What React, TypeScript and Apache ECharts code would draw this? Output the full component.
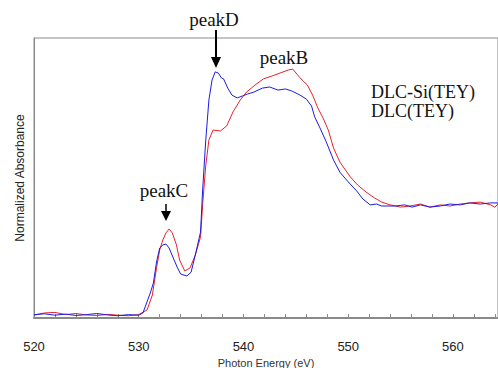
import React, { useEffect, useRef } from "react";
import * as echarts from "echarts";

const seriesNames = ["DLC-Si(TEY)", "DLC(TEY)"];

const blueX = [520, 521, 522, 523, 524, 525, 526, 527, 528, 529, 530, 530.4, 531.1, 531.4, 531.7, 532.0, 532.3, 532.6, 532.9, 533.3, 533.7, 534.0, 534.6, 535.0, 535.4, 535.9, 536.1, 536.4, 536.7, 537.0, 537.3, 537.6, 537.9, 538.1, 538.5, 538.9, 539.4, 539.9, 540.4, 541.0, 541.8, 542.5, 543.3, 544.0, 544.6, 545.4, 546.0, 546.5, 546.8, 547.3, 547.9, 548.6, 549.2, 550.0, 550.8, 551.4, 552.1, 552.7, 553.2, 554.5, 555.4, 556.1, 556.9, 557.8, 558.8, 559.7, 560.7, 561.6, 562.6, 563.6, 564.3];
const blueY = [0.012, 0.015, 0.010, 0.014, 0.009, 0.012, 0.016, 0.011, 0.008, 0.012, 0.010, 0.018, 0.089, 0.125, 0.200, 0.250, 0.261, 0.264, 0.250, 0.214, 0.179, 0.157, 0.150, 0.164, 0.225, 0.307, 0.457, 0.636, 0.779, 0.850, 0.879, 0.875, 0.857, 0.854, 0.821, 0.796, 0.786, 0.793, 0.800, 0.807, 0.821, 0.825, 0.814, 0.818, 0.811, 0.796, 0.782, 0.757, 0.718, 0.679, 0.629, 0.564, 0.521, 0.486, 0.454, 0.425, 0.404, 0.407, 0.400, 0.400, 0.404, 0.396, 0.404, 0.396, 0.400, 0.407, 0.404, 0.411, 0.407, 0.411, 0.411];

const redX = [520, 521, 522, 523, 524, 525, 526, 527, 528, 529, 530, 530.8, 531.3, 531.7, 532.0, 532.3, 532.6, 532.9, 533.2, 533.6, 533.9, 534.4, 534.9, 535.4, 535.9, 536.1, 536.4, 536.7, 537.1, 537.8, 538.4, 539.0, 539.7, 540.3, 541.1, 541.9, 542.7, 543.5, 544.3, 544.7, 545.1, 545.6, 546.1, 546.6, 547.1, 547.6, 548.1, 548.6, 549.2, 550.2, 550.9, 551.7, 552.5, 553.2, 554.0, 555.0, 555.9, 556.9, 557.8, 558.8, 559.7, 560.7, 561.6, 562.6, 563.6, 564.0, 564.3];
const redY = [0.010, 0.018, 0.020, 0.012, 0.016, 0.011, 0.009, 0.013, 0.010, 0.008, 0.012, 0.029, 0.082, 0.179, 0.243, 0.279, 0.304, 0.318, 0.304, 0.261, 0.207, 0.168, 0.179, 0.225, 0.289, 0.404, 0.546, 0.636, 0.671, 0.668, 0.686, 0.736, 0.779, 0.807, 0.832, 0.854, 0.864, 0.875, 0.886, 0.889, 0.871, 0.850, 0.832, 0.796, 0.750, 0.714, 0.671, 0.607, 0.557, 0.504, 0.475, 0.450, 0.429, 0.414, 0.404, 0.396, 0.400, 0.407, 0.396, 0.404, 0.400, 0.407, 0.411, 0.414, 0.404, 0.396, 0.407];

const xTickLabels = [520, 530, 540, 550, 560];

export default function App() {
  const ref = useRef<HTMLDivElement>(null);
  useEffect(() => {
    if (!ref.current) return;
    const chart = echarts.init(ref.current, null, { renderer: "svg" });
    const serif = "'Liberation Serif', 'DejaVu Serif', serif";
    const sans = "'Liberation Sans', Arial, sans-serif";
    chart.setOption({
      animation: false,
      backgroundColor: "#ffffff",
      grid: {
        left: 34, right: 0, top: 38, bottom: 50,
        outerBoundsMode: "none", containLabel: false,
        show: true, borderColor: "#8a8a8a", borderWidth: 1,
      },
      xAxis: {
        type: "value",
        min: 520,
        max: 564.3,
        interval: 2,
        name: "Photon Energy (eV)",
        nameLocation: "middle",
        nameGap: 31,
        nameTextStyle: { fontFamily: sans, fontSize: 11, color: "#333" },
        axisLine: { show: true, lineStyle: { color: "#8a8a8a", width: 2 } },
        axisTick: { show: true, inside: true, length: 4, lineStyle: { color: "#8a8a8a" } },
        splitLine: { show: false },
        axisLabel: {
          margin: 22,
          showMaxLabel: false,
          fontFamily: sans,
          fontSize: 13,
          color: "#222",
          formatter: (v: number) => (xTickLabels.includes(v) ? String(v) : ""),
        },
      },
      yAxis: {
        type: "value",
        min: 0,
        max: 1,
        name: "Normalized Absorbance",
        nameLocation: "middle",
        nameGap: 8,
        nameTextStyle: { fontFamily: sans, fontSize: 12, color: "#222" },
        axisLine: { show: true, lineStyle: { color: "#8a8a8a" } },
        axisTick: { show: false },
        axisLabel: { show: false },
        splitLine: { show: false },
      },
      series: [
        {
          name: seriesNames[1],
          type: "line",
          showSymbol: false,
          data: redX.map((x, i) => [x, redY[i]]),
          lineStyle: { color: "#e8202a", width: 1 },
        },
        {
          name: seriesNames[0],
          type: "line",
          showSymbol: false,
          data: blueX.map((x, i) => [x, blueY[i]]),
          lineStyle: { color: "#1c1ce0", width: 1 },
        },
      ],
      graphic: [
        { type: "text", left: 371, top: 83, style: { text: seriesNames[0], font: `18px ${serif}`, fill: "#111" } },
        { type: "text", left: 371, top: 102, style: { text: seriesNames[1], font: `18px ${serif}`, fill: "#111" } },
        { type: "text", x: 214, y: 19, style: { text: "peakD", font: `19px ${serif}`, fill: "#111", textAlign: "center", textVerticalAlign: "middle" } },
        { type: "line", shape: { x1: 216, y1: 30, x2: 216, y2: 60 }, style: { stroke: "#000", lineWidth: 2 } },
        { type: "polygon", shape: { points: [[211, 57], [221, 57], [216, 68]] }, style: { fill: "#000" } },
        { type: "text", x: 284, y: 57, style: { text: "peakB", font: `19px ${serif}`, fill: "#111", textAlign: "center", textVerticalAlign: "middle" } },
        { type: "text", x: 164, y: 190, style: { text: "peakC", font: `19px ${serif}`, fill: "#111", textAlign: "center", textVerticalAlign: "middle" } },
        { type: "line", shape: { x1: 166, y1: 204, x2: 166, y2: 214 }, style: { stroke: "#000", lineWidth: 1.5 } },
        { type: "polygon", shape: { points: [[161, 211], [171, 211], [166, 221]] }, style: { fill: "#000" } },
      ],
    });
    return () => chart.dispose();
  }, []);
  return (
    <div
      ref={ref}
      style={{ position: "fixed", left: 0, top: 0, width: 498, height: 368, background: "#fff" }}
    />
  );
}
